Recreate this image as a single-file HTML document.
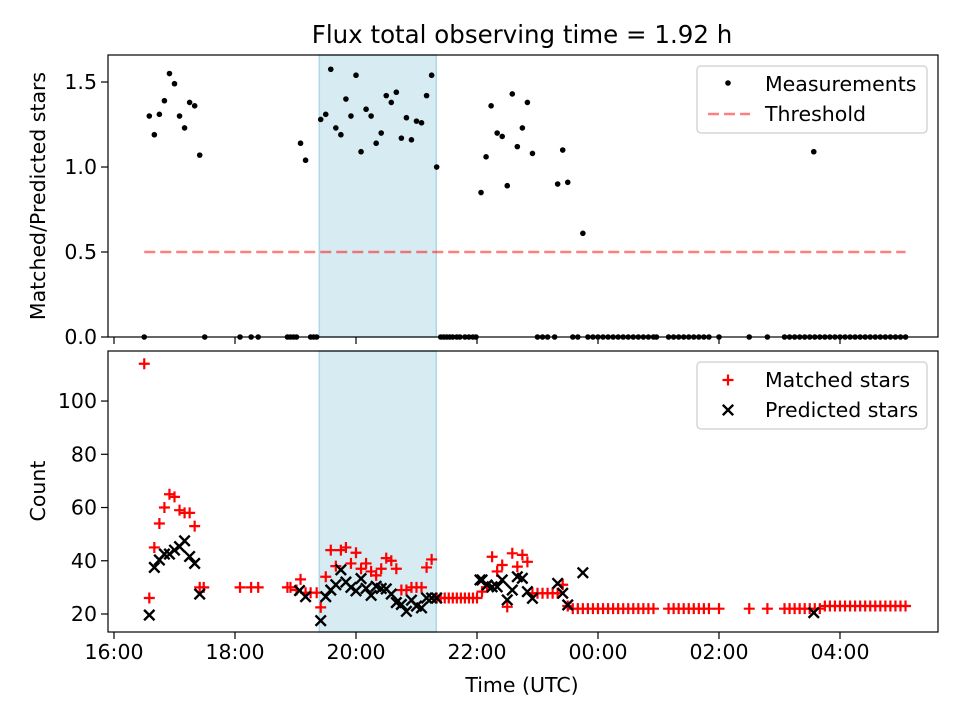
<!DOCTYPE html>
<html><head><meta charset="utf-8"><style>
body{margin:0;background:#fff}
svg text{font-family:"DejaVu Sans","Liberation Sans",sans-serif;fill:#000}
</style></head><body>
<svg id="chart" width="960" height="720" xmlns="http://www.w3.org/2000/svg"></svg>
<script>
// ---- data (minutes since 16:00 UTC) ----
const ratioTimes = [35,40,45,50,55,60,65,70,75,80,85,185,190,205,210,215,220,225,230,235,240,245,250,255,260,265,270,275,280,285,290,295,300,305,310,315,320,364,369,374,380,385,390,395,400,405,410,415,440,445,450,465,694];
const ratioValues = [1.30,1.19,1.31,1.39,1.55,1.49,1.30,1.23,1.38,1.36,1.07,1.14,1.04,1.28,1.31,1.575,1.23,1.19,1.40,1.30,1.54,1.09,1.34,1.30,1.14,1.20,1.42,1.38,1.44,1.17,1.29,1.16,1.27,1.26,1.42,1.54,1.00,0.85,1.06,1.36,1.20,1.18,0.89,1.43,1.12,1.23,1.38,1.08,0.90,1.10,0.91,0.61,1.09];
const zeroTimes = [30,90,125,136,143,172,175,178,181,195,198,201,324,327,330,333,336,340,343,348,352,356,359,420,425,430,437,455,460,470,475,480,485,490,495,500,505,510,515,520,525,530,535,538,550,555,560,565,570,575,580,585,590,600,630,648,665,670,675,680,685,690,695,700,705,710,715,720,725,730,735,740,745,750,755,760,765,770,775,780,785];
const threshold = 0.5;
const thresholdStart = 30, thresholdEnd = 785;
const matchedTimes = [30,35,40,45,50,55,60,65,70,75,80,85,89,125,136,143,172,175,181,185,190,195,201,205,210,215,220,225,230,235,240,245,250,255,260,265,270,275,280,285,290,295,300,305,310,315,320,324,328,332,336,340,344,348,352,356,360,365,370,375,380,385,390,395,400,405,410,415,420,425,430,435,440,445,450,455,460,465,470,475,480,485,490,495,500,505,510,515,520,525,530,535,550,555,560,565,570,575,580,585,590,600,630,648,665,670,675,680,685,690,695,700,705,710,715,720,725,730,735,740,745,750,755,760,765,770,775,780,785];
const matchedValues = [114,26,45,54,60,65,64,59,58,58,53,30,30,30,30,30,30,30,29,33,28,28,28,22.5,34,44,38,44,45,39,43,37,39,36,34.5,37,41,40,37,29,29,30,30,30,37.5,40.5,26,26,26,26,26,26,26,26,26,26,26,28.4,30,41.5,36,38.4,22.7,42.8,37.8,42.2,39.6,27.8,27.8,27.8,27.8,27.8,27.8,31,23,22,22,22,22,22,22,22,22,22,22,22,22,22,22,22,22,22,22,22,22,22,22,22,22,22,22,22,22,22,22,22,22,22,22,22,22,22,23,23,23,23,23,23,23,23,23,23,23,23,23,23,23,23,23,23,23];
const predictedTimes = [35,40,45,50,55,60,65,70,75,80,85,184,190,205,210,215,220,225,230,235,240,245,250,255,260,265,270,275,280,285,290,295,300,305,310,315,320,363,365,370,375,380,385,390,395,400,405,410,415,440,445,450,465,694];
const predictedValues = [19.6,37.5,40.3,42.5,42.5,44,45.3,47.5,41.6,39,27.5,28.8,26.5,17.5,26.5,29,31,36.6,32,30,28.7,33.3,29.6,27,30.4,29.6,29.4,27.5,24.3,23.6,21,25.2,23,22.3,26,26,26,32.8,32.8,30.9,30.2,30.2,32.8,25.3,29,34,33.4,28.4,25.9,31.5,27.8,23.4,35.5,20.5];
const shadeStart = 203.6, shadeEnd = 319.6;
const xTickMinutes = [0,120,240,360,480,600,720];
const xTickLabels = ["16:00","18:00","20:00","22:00","00:00","02:00","04:00"];
const topYTicks = [0,0.5,1.0,1.5];
const topYTickLabels = ["0.0","0.5","1.0","1.5"];
const botYTicks = [20,40,60,80,100];
const botYTickLabels = ["20","40","60","80","100"];

// ---- layout ----
const L=108,R=938, T1=55,B1=337, T2=351,B2=632;
const xMin=-5.95, xMax=817.2;
const x = m => L + (m-xMin)/(xMax-xMin)*(R-L);
const yTop = v => B1 - v/1.659*(B1-T1);
const yBot = v => B2 - (v-13.24)/(118.8-13.24)*(B2-T2);
const svg = document.getElementById('chart');
const NS='http://www.w3.org/2000/svg';
function mk(tag, attrs, parent){const e=document.createElementNS(NS,tag);for(const k in attrs)e.setAttribute(k,attrs[k]);(parent||svg).appendChild(e);return e;}

// panels
function panel(T,B,name){
  const g=mk('g',{});
  
  
  const r=mk('rect',{x:shadeStart?x(shadeStart):0,y:T,width:x(shadeEnd)-x(shadeStart),height:B-T,fill:'#add8e6','fill-opacity':0.5,stroke:'#add8e6','stroke-width':1.5},g);
  
  
  return g;
}
const gTop=panel(T1,B1,'top-panel');
const gBot=panel(T2,B2,'bottom-panel');

// top: threshold
const th=mk('line',{x1:x(thresholdStart),x2:x(thresholdEnd),y1:yTop(threshold),y2:yTop(threshold),stroke:'#ff0000','stroke-opacity':0.5,'stroke-width':2.5,'stroke-dasharray':'11,5'},gTop);


// measurements
ratioTimes.forEach((t,i)=>{const c=mk('circle',{cx:x(t),cy:yTop(ratioValues[i]),r:2.8,fill:'#000'},gTop);

});
zeroTimes.forEach(t=>{const c=mk('circle',{cx:x(t),cy:yTop(0),r:2.8,fill:'#000'},gTop);

});

// bottom: matched plus, predicted x
function plus(cx,cy,g){const s=5.5;return mk('path',{d:`M${cx-s},${cy}H${cx+s}M${cx},${cy-s}V${cy+s}`,stroke:'#ff0000','stroke-width':2.2,fill:'none'},g);}
function cross(cx,cy,g){const s=5.2;return mk('path',{d:`M${cx-s},${cy-s}L${cx+s},${cy+s}M${cx-s},${cy+s}L${cx+s},${cy-s}`,stroke:'#000','stroke-width':2.4,fill:'none'},g);}
matchedTimes.forEach((t,i)=>{const p=plus(x(t),yBot(matchedValues[i]),gBot);

});
predictedTimes.forEach((t,i)=>{const p=cross(x(t),yBot(predictedValues[i]),gBot);

});

// frames and ticks
[[T1,B1],[T2,B2]].forEach(([T,B],pi)=>{
  const f=mk('rect',{x:L,y:T,width:R-L,height:B-T,fill:'none',stroke:'#000','stroke-width':1.2});
  
  
  xTickMinutes.forEach((m,i)=>{
    mk('line',{x1:x(m),x2:x(m),y1:B,y2:B+7,stroke:'#000','stroke-width':1.2});
    if(pi===1){const t=mk('text',{x:x(m),y:B+27,'font-size':20.5,'text-anchor':'middle'});t.textContent=xTickLabels[i];
      
      }
  });
});
topYTicks.forEach((v,i)=>{mk('line',{x1:L-7,x2:L,y1:yTop(v),y2:yTop(v),stroke:'#000','stroke-width':1.2});
  const t=mk('text',{x:L-11,y:yTop(v)+7,'font-size':20.5,'text-anchor':'end'});t.textContent=topYTickLabels[i];
  
  });
botYTicks.forEach((v,i)=>{mk('line',{x1:L-7,x2:L,y1:yBot(v),y2:yBot(v),stroke:'#000','stroke-width':1.2});
  const t=mk('text',{x:L-11,y:yBot(v)+7,'font-size':20.5,'text-anchor':'end'});t.textContent=botYTickLabels[i];
  
  });

// labels
function label(txt,xx,yy,size,rot,name){const t=mk('text',{x:xx,y:yy,'font-size':size,'text-anchor':'middle'});
  if(rot)t.setAttribute('transform',`rotate(-90 ${xx} ${yy})`);t.textContent=txt;
  
  }
label('Flux total observing time = 1.92 h',522,43,24.5,false,'chart-title');
label('Matched/Predicted stars',45,196,20.5,true,'top-y-axis-title');
label('Count',45,491,20.5,true,'bottom-y-axis-title');
label('Time (UTC)',522,692,20.5,false,'x-axis-title');

// legends
function legend(y0,name,items){
  const g=mk('g',{});
  
  
  mk('rect',{x:697,y:y0,width:230,height:67,rx:4,fill:'#fff','fill-opacity':0.8,stroke:'#d6d6d6','stroke-width':1.5},g);
  items.forEach((it,i)=>{const yy=y0+18+i*30;it.draw(728,yy,g);
    const t=mk('text',{x:765,y:yy+7,'font-size':20.5},g);t.textContent=it.text;
    
    });
}
legend(66,'top-legend',[
  {text:'Measurements',draw:(a,b,g)=>mk('circle',{cx:a,cy:b-1,r:2.8,fill:'#000'},g)},
  {text:'Threshold',draw:(a,b,g)=>mk('line',{x1:708,x2:750,y1:b,y2:b,stroke:'#ff0000','stroke-opacity':0.5,'stroke-width':2.5,'stroke-dasharray':'11,5'},g)}
]);
legend(362,'bottom-legend',[
  {text:'Matched stars',draw:(a,b,g)=>plus(a,b,g)},
  {text:'Predicted stars',draw:(a,b,g)=>cross(a,b,g)}
]);
</script>
</body></html>
